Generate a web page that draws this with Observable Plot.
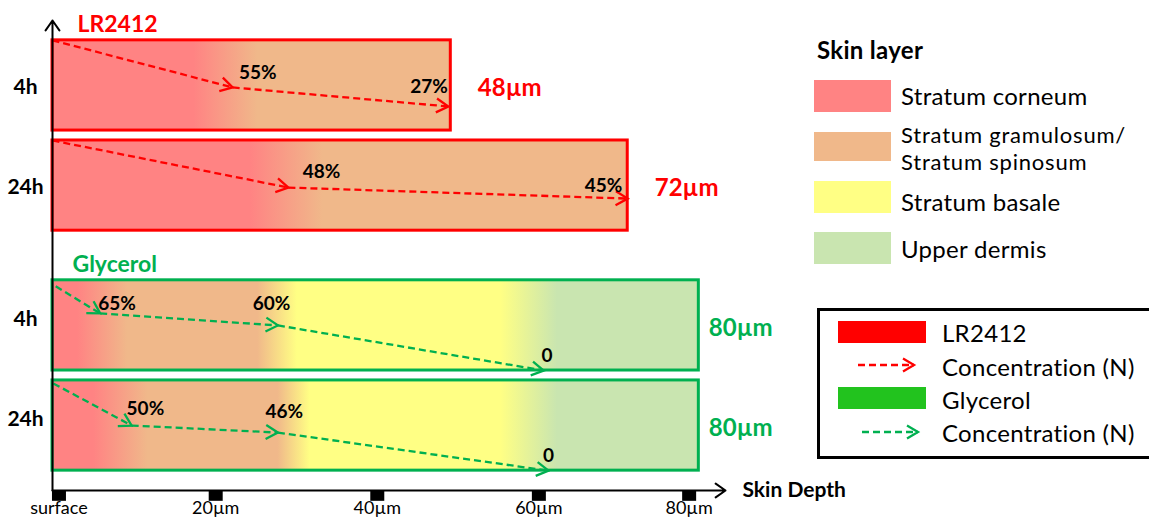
<!DOCTYPE html>
<html><head><meta charset="utf-8">
<script src="https://cdn.jsdelivr.net/npm/d3@7"></script>
<script src="https://cdn.jsdelivr.net/npm/@observablehq/plot@0.6"></script>
<style>
body{margin:0;background:#fff;font-family:Lato,sans-serif}
#wrap{position:relative;width:1149px;height:520px;overflow:hidden}
.lg{position:absolute;white-space:nowrap;color:#000;font-size:24px;line-height:24px;letter-spacing:0.3px}
.sw{position:absolute}
</style></head><body><div id="wrap"><div id="chart"></div>
<div id="legend"></div></div>
<script>
// ---------- data ----------
const groups = ["LR2412", "LR2412", "Glycerol", "Glycerol"];
const times = ["4h", "24h", "4h", "24h"];
const depthLabels = ["48µm", "72µm", "80µm", "80µm"];
const barDepth = [49.3, 71.2, 80, 80];               // drawn extent (µm)
const layerNames = ["Stratum corneum", "Stratum gramulosum/<br>Stratum spinosum", "Stratum basale", "Upper dermis"];
const layerColors = ["#FF8383", "#F0B88A", "#FFFF84", "#C9E5B0"];
const layerStopDepth = [
  [0, 17.5, 25.4],
  [0, 24.5, 33.5],
  [0, 3.1, 9.3, 25.4, 30.3, 55.5, 62.5],
  [0, 5.1, 11.8, 27.9, 31.9, 55.5, 62.5]
];
const layerStopIndex = [
  [0, 0, 1],
  [0, 0, 1],
  [0, 0, 1, 1, 2, 2, 3],
  [0, 0, 1, 1, 2, 2, 3]
];
const arrowDepth = [
  [0, 22.3, 49.0],
  [0, 29.2, 71.2],
  [0.4, 5.9, 27.9, 60.8],
  [0.1, 9.8, 27.9, 61.4]
];
const arrowLevel = [
  [100, 47.8, 26.7],
  [100, 47.8, 35.6],
  [93.3, 63.3, 50, 0],
  [96.7, 50, 42.2, 0]
];
const concText = [["55%", "27%"], ["48%", "45%"], ["65%", "60%", "0"], ["50%", "46%", "0"]];
const concDepth = [[25.4, 46.6], [33.3, 68.2], [8.0, 27.1, 61.2], [11.5, 28.7, 61.4]];
const concLevel = [[64.4, 48.9], [65.6, 50], [73.3, 73.3, 16.7], [68.9, 65.6, 16.7]];
const tickDepth = [0.8, 20.2, 40.2, 60.2, 78.8];
const tickLabels = ["surface", "20µm", "40µm", "60µm", "80µm"];
const groupNames = ["LR2412", "Glycerol"];
const groupColors = ["#FF0000", "#00B050"];
const legendSwatch = ["#FF0000", "#22C31E"];

// ---------- layout ----------
const ROW = 100, GAP = 11, GROUP_GAP = 55, AXIS = -22, TOP = 499, XMAX = 83.3;
const base = [];
{ let acc = 0;
  for (let i = groups.length - 1; i >= 0; i--) {
    base[i] = acc;
    acc += ROW + (i > 0 ? (groups[i - 1] !== groups[i] ? GROUP_GAP : GAP) : 0);
  } }
const colorOf = g => groupColors[groupNames.indexOf(g)];
const rows = groups.map((g, i) => ({i, group: g, time: times[i], depth: barDepth[i], label: depthLabels[i],
  y1: base[i], y2: base[i] + ROW, yc: base[i] + ROW / 2}));
const segs = [];
arrowDepth.forEach((ds, i) => { for (let j = 1; j < ds.length; j++) segs.push({group: groups[i],
  x1: ds[j - 1], y1: base[i] + arrowLevel[i][j - 1], x2: ds[j], y2: base[i] + arrowLevel[i][j]}); });
const concs = [];
concText.forEach((ts, i) => ts.forEach((t, j) => concs.push({text: t, x: concDepth[i][j], y: base[i] + concLevel[i][j]})));
const firstRows = groupNames.map(g => rows.find(r => r.group === g));

const marks = [];
rows.forEach(r => marks.push(Plot.rect([r], {x1: () => 0, x2: "depth", y1: "y1", y2: "y2",
  fill: `url(#layer${r.i})`, stroke: colorOf(r.group), strokeWidth: 3})));
groupNames.forEach((g, k) => {
  marks.push(Plot.link(segs.filter(s => s.group === g), {x1: "x1", y1: "y1", x2: "x2", y2: "y2",
    stroke: groupColors[k], strokeWidth: 2.3, strokeDasharray: "7,4"}));
});
marks.push(Plot.text(concs, {x: "x", y: "y", text: "text", fontSize: 19, fontWeight: "bold", fill: "#000"}));
groupNames.forEach((g, k) => {
  const rs = rows.filter(r => r.group === g);
  marks.push(Plot.text(rs, {frameAnchor: "left", y: "yc", text: "time", dx: -27, dy: k === 0 ? 2 : -6,
    textAnchor: "middle", fontSize: 21, fontWeight: "bold", fill: "#000"}));
  marks.push(Plot.text(rs, {x: "depth", y: "yc", text: "label", dx: k === 0 ? 27 : 10, dy: 3,
    textAnchor: "start", fontSize: 24, fontWeight: "bold", fill: groupColors[k]}));
  marks.push(Plot.text([firstRows[k]], {x: () => 0, y: "y2", text: "group", dx: k === 0 ? 25 : 20, dy: -16,
    textAnchor: "start", fontSize: 23, fontWeight: "bold", fill: groupColors[k]}));
});
// axes
marks.push(Plot.ruleX(tickDepth, {y1: () => AXIS, y2: () => AXIS - 12, strokeWidth: 14, stroke: "#000"}));
marks.push(Plot.arrow([0], {x1: () => 0, y1: () => AXIS, x2: () => XMAX, y2: () => AXIS, stroke: "#000", strokeWidth: 2, headLength: 9, headAngle: 70}));
marks.push(Plot.arrow([0], {x1: () => 0, y1: () => AXIS, x2: () => 0, y2: () => TOP, stroke: "#000", strokeWidth: 2, headLength: 9, headAngle: 70}));
marks.push(Plot.text(tickDepth, {x: d => d, y: () => AXIS, dy: 18, text: (d, i) => tickLabels[i], fontSize: 18, fill: "#000"}));
marks.push(Plot.text(["Skin Depth"], {x: () => XMAX, y: () => AXIS, dx: 17, textAnchor: "start", fontSize: 21, fontWeight: "bold", fill: "#000"}));

const plot = Plot.plot({
  width: 1149, height: 520,
  marginLeft: 52, marginRight: 1149 - 725, marginTop: 20, marginBottom: 30,
  x: {domain: [0, XMAX], axis: null},
  y: {domain: [AXIS, TOP], axis: null},
  style: {fontFamily: "Lato, sans-serif", background: "transparent", overflow: "visible"},
  marks
});
document.getElementById("chart").appendChild(plot);

// gradients and arrowheads
const svg = d3.select(plot);
const defs = svg.insert("defs", ":first-child");
const xs = plot.scale("x");
rows.forEach(r => {
  const g = defs.append("linearGradient").attr("id", `layer${r.i}`).attr("gradientUnits", "userSpaceOnUse")
    .attr("x1", xs.apply(0)).attr("x2", xs.apply(r.depth)).attr("y1", 0).attr("y2", 0);
  layerStopDepth[r.i].forEach((d, j) => g.append("stop").attr("offset", d / r.depth)
    .attr("stop-color", layerColors[layerStopIndex[r.i][j]]));
});
groupColors.forEach((c, k) => {
  defs.append("marker").attr("id", `head${k}`).attr("viewBox", "-15 -10 17 20").attr("markerWidth", 17)
    .attr("markerHeight", 20).attr("markerUnits", "userSpaceOnUse").attr("refX", 0).attr("refY", 0)
    .attr("orient", "auto").append("path").attr("d", "M-12,-7L0,0L-12,7").attr("fill", "none")
    .attr("stroke", c).attr("stroke-width", 2.3).attr("stroke-dasharray", "none");
});
svg.selectAll('g[aria-label="link"]').each(function (_, k) {
  d3.select(this).selectAll("path").attr("marker-end", `url(#head${k})`);
});

// ---------- legend ----------
const L = document.getElementById("legend");
function add(html) { L.insertAdjacentHTML("beforeend", html); }
add(`<div class="lg" style="left:817px;top:38px;font-weight:bold">Skin layer</div>`);
const swTop = [80, 132, 181, 232], swH = [32, 29, 32, 32];
const txtTop = [84, 121, 190, 237];
const txtStyle = ["", "font-size:22px;line-height:27px;letter-spacing:0.8px", "", ""];
layerNames.forEach((n, i) => {
  add(`<div class="lg" style="left:901px;top:${txtTop[i]}px;${txtStyle[i]}">${n}</div>`);
  add(`<div class="sw" style="left:814px;top:${swTop[i]}px;width:77px;height:${swH[i]}px;background:${layerColors[i]}"></div>`);
});
add(`<div style="position:absolute;left:817px;top:308px;width:400px;height:145px;border:3px solid #000"></div>`);
const lgTop = [321, 387], lgTxt = [333, 400], arTxt = [367, 433], arY = [365, 432], arX = [858, 862];
groupNames.forEach((g, k) => {
  add(`<div class="sw" style="left:838px;top:${lgTop[k]}px;width:88px;height:22px;background:${legendSwatch[k]}"></div>`);
  add(`<div class="lg" style="left:942px;top:${lgTxt[k] - 12}px">${g}</div>`);
  add(`<svg style="position:absolute;left:${arX[k]}px;top:${arY[k] - 10}px" width="60" height="20"><line x1="0" y1="10" x2="56" y2="10" stroke="${groupColors[k]}" stroke-width="2.3" stroke-dasharray="7,4"/><path d="M45,3.5L56,10L45,16.5" fill="none" stroke="${groupColors[k]}" stroke-width="2.3"/></svg>`);
  add(`<div class="lg" style="left:942px;top:${arTxt[k] - 12}px">Concentration (N)</div>`);
});
</script></body></html>
